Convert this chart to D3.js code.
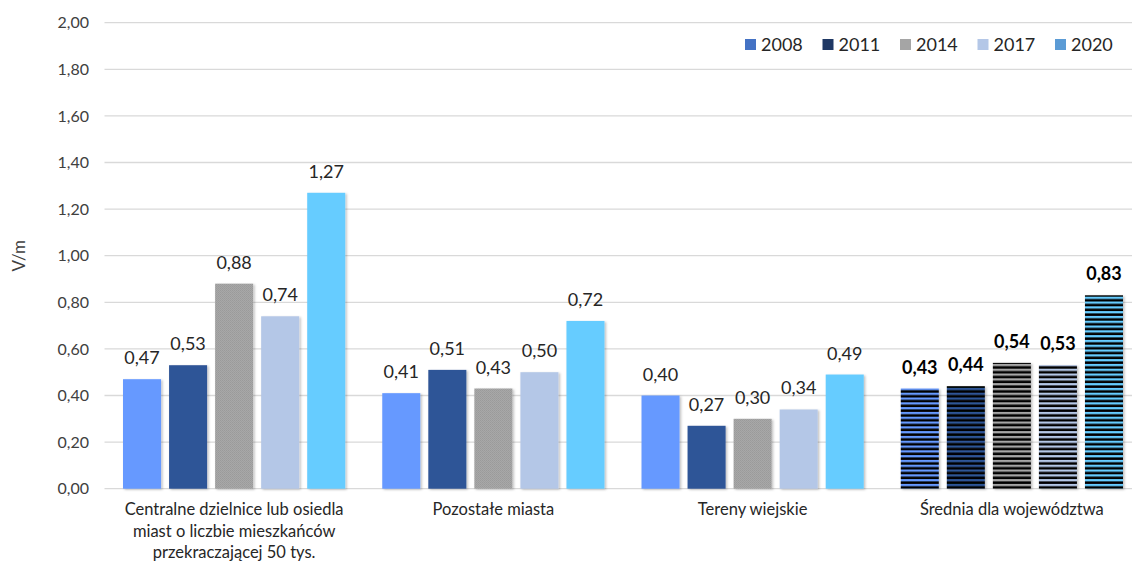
<!DOCTYPE html>
<html><head><meta charset="utf-8">
<script src="https://cdn.jsdelivr.net/npm/d3@7"></script>
<style>
html,body{margin:0;padding:0;background:#fff;}
svg{display:block;font-family:Lato,"Open Sans",sans-serif;}
</style></head>
<body>
<svg id="chart" width="1132" height="563"></svg>
<script>
const categories = [
  ["Centralne dzielnice lub osiedla","miast o liczbie mieszkańców","przekraczającej 50 tys."],
  ["Pozostałe miasta"],
  ["Tereny wiejskie"],
  ["Średnia dla województwa"]
];
const years = ["2008","2011","2014","2017","2020"];
const v2008 = [0.47, 0.41, 0.40, 0.43];
const v2011 = [0.53, 0.51, 0.27, 0.44];
const v2014 = [0.88, 0.43, 0.30, 0.54];
const v2017 = [0.74, 0.50, 0.34, 0.53];
const v2020 = [1.27, 0.72, 0.49, 0.83];
const yTicks = [0,0.2,0.4,0.6,0.8,1.0,1.2,1.4,1.6,1.8,2.0];
const barColors = ["#6699FF","#2F5597","#A6A6A6","#B4C7E7","#66CCFF"];
const legendColors = ["#4472C4","#1F3864","#A5A5A5","#B4C7E7","#5B9BD5"];

(function(){
const series = [v2008,v2011,v2014,v2017,v2020];
const svg = d3.select("#chart");
const W = 1132;
const pLeft = 104.5, pRight = 1141.5, pTop = 22.7, pBottom = 488.7;

const catIdx = categories.map((d,i)=>i);
const x0 = d3.scaleBand().domain(catIdx).range([pLeft,pRight]).paddingInner(0).paddingOuter(0);
const x1 = d3.scaleBand().domain(years).range([0,x0.bandwidth()]).paddingInner(0.174).paddingOuter(0.402);
const y = d3.scaleLinear().domain([0,2]).range([pBottom,pTop]);
const fmt = v => d3.format(".2f")(v).replace(".",",");

const defs = svg.append("defs");
const sh = defs.append("filter").attr("id","shadow").attr("x","-20%").attr("y","-20%").attr("width","140%").attr("height","140%");
sh.append("feDropShadow").attr("dx",1.5).attr("dy",1).attr("stdDeviation",1.2).attr("flood-color","#000").attr("flood-opacity",0.25);

const gp = defs.append("pattern").attr("id","grayTex").attr("patternUnits","userSpaceOnUse").attr("width",2).attr("height",2);
gp.append("rect").attr("width",2).attr("height",2).attr("fill","#A8A8A8");
gp.append("rect").attr("width",1).attr("height",1).attr("fill","#9A9A9A");
gp.append("rect").attr("x",1).attr("y",1).attr("width",1).attr("height",1).attr("fill","#9E9E9E");

barColors.forEach((c,i)=>{
  const p = defs.append("pattern").attr("id","stripe"+i).attr("patternUnits","userSpaceOnUse")
    .attr("width",10).attr("height",4.8).attr("y",pBottom);
  p.append("rect").attr("width",10).attr("height",4.8).attr("fill",c);
  p.append("rect").attr("y",2.3).attr("width",10).attr("height",2.5).attr("fill","#000");
});

svg.append("g").selectAll("line").data(yTicks).join("line")
  .attr("x1",pLeft).attr("x2",W).attr("y1",d=>y(d)).attr("y2",d=>y(d))
  .attr("stroke","#D9D9D9").attr("stroke-width",1.3);

const yAxis = d3.axisLeft(y).tickValues(yTicks).tickFormat(fmt).tickSize(0).tickPadding(0);
const ya = svg.append("g").attr("transform","translate(89,0)").call(yAxis);
ya.select(".domain").remove();
ya.selectAll("text").attr("font-size",16).attr("fill","#404040").attr("font-family","Lato");

svg.append("text").attr("transform","translate(25,"+((pTop+pBottom)/2)+") rotate(-90)")
  .attr("text-anchor","middle").attr("font-size",17).attr("fill","#404040").text("V/m");

const data = [];
categories.forEach((c,ci)=>{
  years.forEach((yr,si)=>{
    data.push({ci, si, yr, v: series[si][ci]});
  });
});
const g = svg.append("g");
g.selectAll("rect").data(data).join("rect")
  .attr("x",d=>x0(d.ci)+x1(d.yr))
  .attr("width",x1.bandwidth())
  .attr("y",d=>y(d.v))
  .attr("height",d=>pBottom-y(d.v))
  .attr("fill",d=> d.ci===3 ? "url(#stripe"+d.si+")" : (d.si===2 ? "url(#grayTex)" : barColors[d.si]))
  .attr("filter","url(#shadow)");

g.selectAll("text").data(data).join("text")
  .attr("x",d=>x0(d.ci)+x1(d.yr)+x1.bandwidth()/2)
  .attr("y",d=>y(d.v)-15)
  .attr("text-anchor","middle")
  .attr("font-size",18)
  .attr("font-weight",d=>d.ci===3?"bold":"normal")
  .attr("fill",d=>d.ci===3?"#000":"#262626")
  .text(d=>fmt(d.v));

const xa = svg.append("g");
categories.forEach((lines,ci)=>{
  const t = xa.append("text").attr("text-anchor","middle").attr("font-size",16.5).attr("fill","#262626")
    .attr("x",x0(ci)+x0.bandwidth()/2).attr("y",515);
  lines.forEach((l,li)=>{
    t.append("tspan").attr("x",x0(ci)+x0.bandwidth()/2).attr("dy",li===0?0:21.5).text(l);
  });
});

const lg = svg.append("g");
years.forEach((yr,i)=>{
  const gx = 745 + i*77.5;
  lg.append("rect").attr("x",gx).attr("y",39).attr("width",11).attr("height",11).attr("fill",legendColors[i]);
  lg.append("text").attr("x",gx+16).attr("y",51).attr("font-size",18).attr("fill","#262626").text(yr);
});
})();
</script>
</body></html>
